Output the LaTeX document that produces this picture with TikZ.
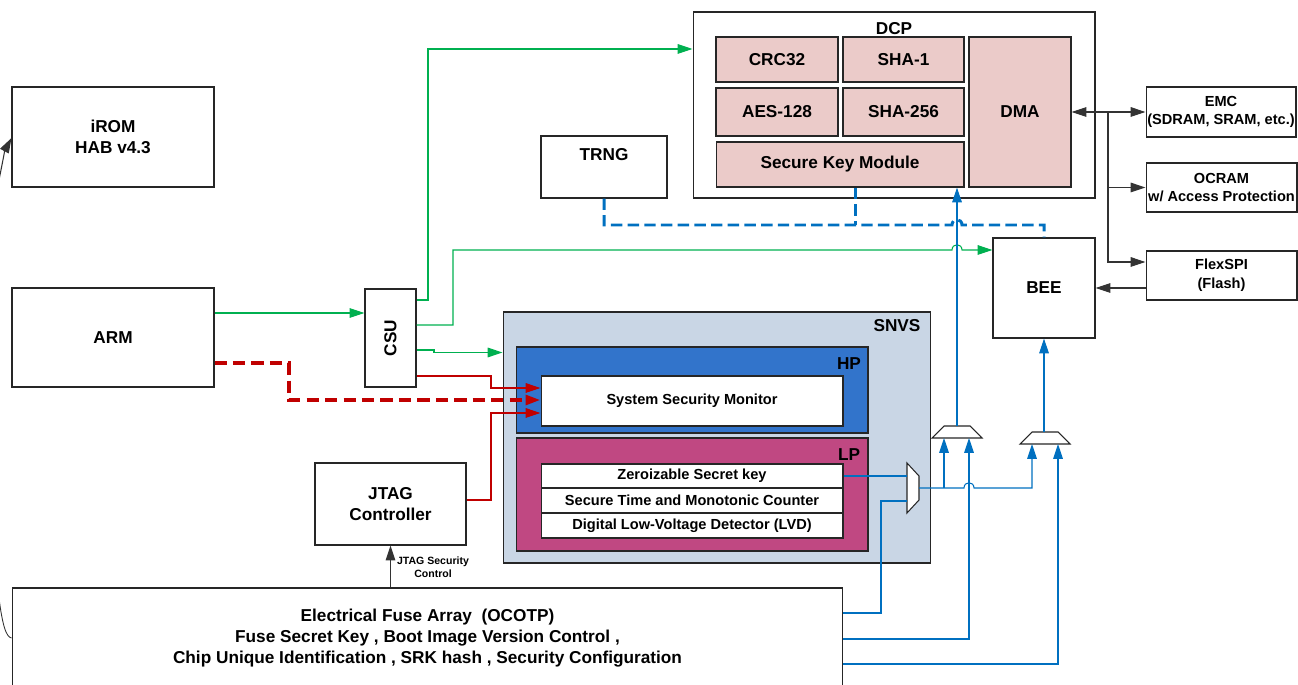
\documentclass[tikz,border=0pt]{standalone}
\usepackage{fontspec}
\usepackage{graphicx}
\setmainfont{Liberation Sans}
\usetikzlibrary{arrows.meta}

\definecolor{dcppink}{HTML}{EBCBC9}
\definecolor{snvsgray}{HTML}{C9D6E5}
\definecolor{hpblue}{HTML}{3274CB}
\definecolor{lpmagenta}{HTML}{C04882}
\definecolor{csugreen}{HTML}{00B050}
\definecolor{secred}{HTML}{C00000}
\definecolor{keyblue}{HTML}{0070C0}

\newcommand{\fontL}{\bfseries\fontsize{9.8}{12}\selectfont}
\newcommand{\fontM}{\bfseries\fontsize{8.3}{10.6}\selectfont}
\newcommand{\fontS}{\bfseries\fontsize{6}{7.6}\selectfont}

\tikzset{
  box/.style={draw=black!85, line width=0.6pt, fill=white, align=center, inner sep=0pt, font=\fontL},
  dcpunit/.style={box, fill=dcppink},
  cellbox/.style={box, font=\fontM},
  tip/.style={-{Triangle[length=8.5pt,width=5.5pt]}},
  ctrl/.style={tip, line width=0.6pt, csugreen},
  alarm/.style={tip, line width=0.6pt, secred},
  keyline/.style={tip, line width=0.6pt, keyblue},
  keydash/.style={keyblue, line width=1.7pt, dash pattern=on 6.5pt off 3pt},
  bus/.style={tip, line width=0.6pt, black!80},
  mux/.style={draw=black!85, line width=0.6pt, fill=white}
}

\begin{document}
\begin{tikzpicture}[x=0.02cm, y=-0.02cm]
    \useasboundingbox (0,0) rectangle (1298,685);

    % Core side
    \node (irom) [box, minimum width=4.04cm, minimum height=2cm] at (113,137) {iROM\\HAB v4.3};
    \node (arm) [box, minimum width=4.04cm, minimum height=1.98cm] at (113,337.5) {ARM};
    \node (csu) [box, minimum width=1.02cm, minimum height=1.96cm] at (390.5,338) {\rotatebox{90}{CSU}};
    \node (jtag) [box, minimum width=3.02cm, minimum height=1.64cm] at (390.5,504) {JTAG\\Controller};
    \node (fuse) [box, minimum width=16.62cm, minimum height=2cm] at (427.5,638)
        {Electrical Fuse Array~ (OCOTP)\\Fuse Secret Key , Boot Image Version Control ,\\Chip Unique Identification , SRK hash , Security Configuration};
    \node (trng) [box, minimum width=2.52cm, minimum height=1.24cm] at (604,167) {};
    \node (trnglabel) [font=\fontL] at (604,155) {TRNG};

    % DCP
    \node (dcp) [box, minimum width=8.04cm, minimum height=3.72cm] at (894,105) {};
    \node (dcplabel) [font=\fontL] at (894,29) {DCP};
    \node (crc) [dcpunit, minimum width=2.44cm, minimum height=0.9cm] at (777,59.5) {CRC32};
    \node (sha1) [dcpunit, minimum width=2.42cm, minimum height=0.9cm] at (903.5,59.5) {SHA-1};
    \node (aes) [dcpunit, minimum width=2.44cm, minimum height=0.96cm] at (777,112) {AES-128};
    \node (sha256) [dcpunit, minimum width=2.42cm, minimum height=0.96cm] at (903.5,112) {SHA-256};
    \node (skm) [dcpunit, minimum width=4.96cm, minimum height=0.9cm] at (840,164.5) {Secure Key Module};
    \node (dma) [dcpunit, minimum width=2.04cm, minimum height=3cm] at (1020,112) {DMA};

    % Memories and BEE
    \node (emc) [cellbox, minimum width=3cm, minimum height=1cm] at (1221,112) {EMC\\(SDRAM, SRAM, etc.)};
    \node (ocram) [cellbox, minimum width=3.02cm, minimum height=0.98cm] at (1221.5,187.5) {OCRAM\\w/ Access Protection};
    \node (flexspi) [cellbox, minimum width=3.02cm, minimum height=0.98cm] at (1221.5,275.5) {FlexSPI\\(Flash)};
    \node (bee) [box, minimum width=2.04cm, minimum height=2cm] at (1044,288) {BEE};

    % SNVS
    \node (snvs) [box, fill=snvsgray, minimum width=8.56cm, minimum height=5.02cm] at (717,437.5) {};
    \node (snvslabel) [font=\fontL] at (897,326) {SNVS};
    \node (hp) [box, fill=hpblue, minimum width=7.04cm, minimum height=1.72cm] at (692,390) {};
    \node (hplabel) [font=\fontL] at (849,364) {HP};
    \node (ssm) [cellbox, minimum width=6.04cm, minimum height=1cm] at (692,401) {System Security Monitor};
    \node (lp) [box, fill=lpmagenta, minimum width=7.04cm, minimum height=2.26cm] at (692,494.5) {};
    \node (lplabel) [font=\fontL] at (849,455) {LP};
    \node (zsk) [cellbox, minimum width=6.04cm, minimum height=0.48cm] at (692,476) {Zeroizable Secret key};
    \node (stm) [cellbox, minimum width=6.04cm, minimum height=0.5cm] at (692,500.5) {Secure Time and Monotonic Counter};
    \node (lvd) [cellbox, minimum width=6.04cm, minimum height=0.5cm] at (692,525.5) {Digital Low-Voltage Detector (LVD)};

    % Muxes
    \draw[mux] (907,463) -- (919,476) -- (919,500) -- (907,513) -- cycle;
    \draw[mux] (932,438) -- (944,426) -- (970,426) -- (982,438) -- cycle;
    \draw[mux] (1020,444) -- (1032,432) -- (1058,432) -- (1070,444) -- cycle;

    % Green control lines
    \draw[ctrl] (arm.east |- 0,313) -- (csu.west |- 0,313);
    \draw[ctrl] (csu.east |- 0,300) -- (428,300) -- (428,49) -- (dcp.west |- 0,49);
    \draw[ctrl] (csu.east |- 0,325) -- (453,325) -- (453,250) -- (952,250)
        .. controls (952,243) and (962,243) .. (962,250) -- (bee.west |- 0,250);
    \draw[ctrl] (csu.east |- 0,350) -- (434,350) -- (434,352.5) -- (snvs.west |- 0,352.5);

    % Red alarm lines
    \draw[alarm] (csu.east |- 0,376) -- (491,376) -- (491,388) -- (ssm.west |- 0,388);
    \draw[alarm, line width=2pt, dash pattern=on 7pt off 3.5pt] (arm.east |- 0,363) -- (289,363) -- (289,400) -- (ssm.west |- 0,400);
    \draw[alarm] (jtag.east |- 0,500) -- (491,500) -- (491,413) -- (ssm.west |- 0,413);

    % Key paths
    \draw[keyline, -] (zsk.east) -- (907,476);
    \draw[keyline, -] (fuse.east |- 0,613) -- (881,613) -- (881,501) -- (907,501);
    \draw[keyline] (919,488) -- (964,488) .. controls (964,481) and (974,481) .. (974,488) -- (1032,488) -- (1032,444);
    \draw[keyline] (944,488) -- (944,438);
    \draw[keyline] (fuse.east |- 0,639) -- (969,639) -- (969,438);
    \draw[keyline] (fuse.east |- 0,664) -- (1058,664) -- (1058,444);
    \draw[keyline] (957,426) -- (skm.south -| 957,0);
    \draw[keyline] (1044,432) -- (bee.south);

    % TRNG dashed
    \draw[keydash] (trng.south) -- (604,225) -- (952,225)
        .. controls (952,218) and (962,218) .. (962,225) -- (1044,225) -- (bee.north);
    \draw[keydash] (skm.south -| 855,0) -- (855,225);

    % Bus
    \draw[bus, {Triangle[length=8.5pt,width=5.5pt]}-{Triangle[length=8.5pt,width=5.5pt]}] (dma.east) -- (emc.west);
    \draw[bus] (1108,112) -- (1108,262) -- (flexspi.west |- 0,262);
    \draw[bus] (1108,187.5) -- (ocram.west);
    \draw[bus] (flexspi.west |- 0,288) -- (bee.east |- 0,288);
    \draw[bus] (fuse.north -| jtag.south) -- (jtag.south);
    \node (jsclabel) [font=\fontS, align=center] at (433,567) {JTAG Security\\Control};

    % Edge curves
    \draw[bus] (-4,195) .. controls (2,165) and (5,150) .. (irom.west |- 0,138);
    \draw[black!80, line width=0.5pt] (-2,590) .. controls (2,625) and (6,637) .. (fuse.west |- 0,638);

\end{tikzpicture}
\end{document}
